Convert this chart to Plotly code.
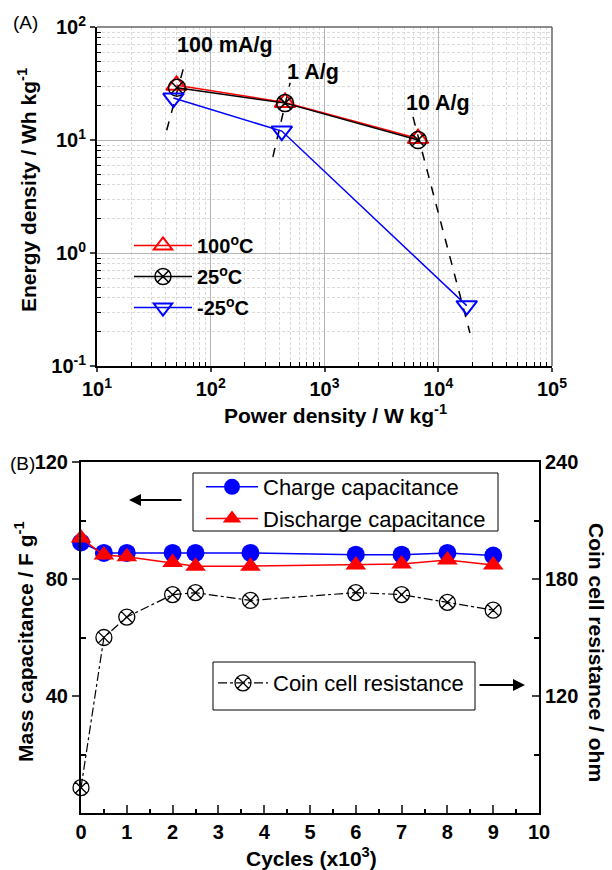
import plotly.graph_objects as go

# ---------------- Panel A data ----------------
power_100C = [50, 450, 6640]
energy_100C = [30.5, 21.5, 10.3]
power_25C = [50.5, 450, 6640]
energy_25C = [29, 21.2, 10.0]
power_m25C = [47, 421, 17800]
energy_m25C = [23.5, 12.0, 0.342]

# dashed rate guide lines (endpoints)
guide_100mA_x = [41, 59.5]
guide_100mA_y = [12.2, 49]
guide_1A_x = [352, 498]
guide_1A_y = [7.1, 32]
guide_10A_x = [6000, 19000]
guide_10A_y = [16, 0.196]
rate_labels = ["100 mA/g", "1 A/g", "10 A/g"]

x_tickvals_A = [10, 100, 1000, 10000, 100000]
x_ticktext_A = ["10<sup>1</sup>", "10<sup>2</sup>", "10<sup>3</sup>", "10<sup>4</sup>", "10<sup>5</sup>"]
y_tickvals_A = [0.1, 1, 10, 100]
y_ticktext_A = ["10<sup>-1</sup>", "10<sup>0</sup>", "10<sup>1</sup>", "10<sup>2</sup>"]

# ---------------- Panel B data ----------------
cycles = [0, 0.5, 1, 2, 2.5, 3.7, 6, 7, 8, 9]
charge_cap = [92.5, 88.9, 88.9, 88.9, 88.9, 88.9, 88.3, 88.3, 88.9, 88.0]
discharge_cap = [94.0, 88.2, 87.6, 85.6, 84.4, 84.4, 84.8, 85.1, 86.5, 84.8]
resistance = [73, 150, 160.5, 172, 173, 169, 173, 172, 168, 164]

FONT = "Arial, Liberation Sans, sans-serif"
W, H = 612, 870

def px(x):
    return x / W

def py(y):
    return 1 - y / H

fig = go.Figure()

# guide lines
for gx, gy in [(guide_100mA_x, guide_100mA_y), (guide_1A_x, guide_1A_y), (guide_10A_x, guide_10A_y)]:
    fig.add_trace(go.Scatter(x=gx, y=gy, mode="lines", showlegend=False, hoverinfo="skip",
                             line=dict(color="black", width=1.5, dash="dash"),
                             xaxis="x", yaxis="y"))

fig.add_trace(go.Scatter(x=power_100C, y=energy_100C, mode="lines+markers", name="100<sup>o</sup>C",
                         line=dict(color="#ff0000", width=1.5), legendgroup="g1",
                         marker=dict(symbol="triangle-up-open", size=18, color="#ff0000", line=dict(width=2)),
                         xaxis="x", yaxis="y", legend="legend"))
fig.add_trace(go.Scatter(x=power_25C, y=energy_25C, mode="lines+markers", name="25<sup>o</sup>C",
                         line=dict(color="black", width=1.5), legendgroup="g2",
                         marker=dict(symbol="circle-x-open", size=17, color="black", line=dict(width=1.5)),
                         xaxis="x", yaxis="y", legend="legend"))
fig.add_trace(go.Scatter(x=power_m25C, y=energy_m25C, mode="lines+markers", name="-25<sup>o</sup>C",
                         line=dict(color="#0000ff", width=1.5), legendgroup="g3",
                         marker=dict(symbol="triangle-down-open", size=18, color="#0000ff", line=dict(width=2)),
                         xaxis="x", yaxis="y", legend="legend"))

# Panel B traces
fig.add_trace(go.Scatter(x=cycles, y=charge_cap, mode="lines+markers", name="Charge capacitance",
                         line=dict(color="#0000ff", width=1.5),
                         marker=dict(symbol="circle", size=18, color="#0000ff"),
                         cliponaxis=False, xaxis="x2", yaxis="y2", legend="legend2"))
fig.add_trace(go.Scatter(x=cycles, y=discharge_cap, mode="lines+markers", name="Discharge capacitance",
                         line=dict(color="#ff0000", width=1.5),
                         marker=dict(symbol="triangle-up", size=18, color="#ff0000"),
                         cliponaxis=False, xaxis="x2", yaxis="y2", legend="legend2"))
fig.add_trace(go.Scatter(x=cycles, y=resistance, mode="lines+markers", name="Coin cell resistance",
                         line=dict(color="black", width=1.2, dash="dashdot"),
                         marker=dict(symbol="circle-x-open", size=16, color="black", line=dict(width=1.3)),
                         cliponaxis=False, xaxis="x2", yaxis="y3", legend="legend3"))

minor_log_x = [m * 10 ** k for k in range(1, 5) for m in range(2, 10)]
minor_log_y = [m * 10 ** k for k in range(-1, 2) for m in range(2, 10)]

tickfont = dict(family=FONT, size=20, color="black", weight="bold")

fig.update_layout(
    width=W, height=H, margin=dict(l=0, r=0, t=0, b=0, autoexpand=False),
    paper_bgcolor="white", plot_bgcolor="white",
    font=dict(family=FONT, color="black"),
    xaxis=dict(type="log", range=[1, 5], domain=[px(97), px(552)], anchor="y", automargin=False,
               tickmode="array", tickvals=x_tickvals_A, ticktext=x_ticktext_A, tickfont=tickfont,
               showline=True, linecolor="black", linewidth=2, ticks="outside", ticklen=4, tickwidth=1.5,
               showgrid=True, gridcolor="#b4b4b4", gridwidth=1, zeroline=False,
               minor=dict(tickmode="array", tickvals=minor_log_x, ticks="inside", ticklen=4, tickwidth=1,
                          tickcolor="black", showgrid=True, gridcolor="#dadada", griddash="3px,2px", gridwidth=1)),
    yaxis=dict(type="log", range=[-1, 2], domain=[py(366), py(27)], anchor="x", automargin=False,
               tickmode="array", tickvals=y_tickvals_A, ticktext=y_ticktext_A, tickfont=tickfont,
               showline=True, linecolor="black", linewidth=2, ticks="outside", ticklen=5, tickwidth=1.5,
               showgrid=True, gridcolor="#b4b4b4", gridwidth=1, zeroline=False,
               minor=dict(tickmode="array", tickvals=minor_log_y, ticks="inside", ticklen=4, tickwidth=1,
                          tickcolor="black", showgrid=True, gridcolor="#dadada", griddash="3px,2px", gridwidth=1)),
    xaxis2=dict(range=[0, 10], domain=[px(81), px(539)], anchor="y2", automargin=False,
                tickmode="linear", tick0=0, dtick=1, tickfont=tickfont,
                showline=True, mirror=True, linecolor="black", linewidth=2,
                ticks="inside", ticklen=8, tickwidth=1.5, showgrid=False, zeroline=False,
                minor=dict(dtick=0.5, ticks="inside", ticklen=4, tickwidth=1.5, tickcolor="black")),
    yaxis2=dict(range=[0, 120], domain=[py(813), py(462)], anchor="x2", automargin=False,
                tickmode="array", tickvals=[40, 80, 120], tickfont=tickfont,
                showline=True, linecolor="black", linewidth=2,
                ticks="outside", ticklen=7, tickwidth=1.5, showgrid=False, zeroline=False,
                minor=dict(tickmode="array", tickvals=[20, 60, 100], ticks="inside", ticklen=5,
                           tickwidth=1.5, tickcolor="black")),
    yaxis3=dict(range=[60, 240], overlaying="y2", side="right", anchor="x2", automargin=False,
                tickmode="array", tickvals=[120, 180, 240], tickfont=tickfont,
                showline=True, linecolor="black", linewidth=2,
                ticks="inside", ticklen=7, tickwidth=1.5, showgrid=False, zeroline=False,
                minor=dict(tickmode="array", tickvals=[90, 150, 210], ticks="inside", ticklen=5,
                           tickwidth=1.5, tickcolor="black")),
    legend=dict(x=px(129), y=py(226), xanchor="left", yanchor="top", bgcolor="rgba(0,0,0,0)",
                font=dict(family=FONT, size=20, color="black", weight="bold"), itemwidth=58,
                tracegroupgap=2),
    legend2=dict(x=px(201), y=py(466), xanchor="left", yanchor="top", bgcolor="rgba(0,0,0,0)",
                 font=dict(family=FONT, size=22, color="black"), itemwidth=52),
    legend3=dict(x=px(213), y=py(662), xanchor="left", yanchor="top", bgcolor="rgba(0,0,0,0)",
                 font=dict(family=FONT, size=22, color="black"), itemwidth=50),
    showlegend=True,
)

# gray top/right frame for panel A
fig.add_shape(type="line", xref="paper", yref="paper", x0=px(97), x1=px(552), y0=py(27), y1=py(27),
              line=dict(color="#666666", width=1.5))
fig.add_shape(type="line", xref="paper", yref="paper", x0=px(552), x1=px(552), y0=py(27), y1=py(366),
              line=dict(color="#666666", width=1.5))
# legend boxes for panel B
fig.add_shape(type="rect", xref="paper", yref="paper", x0=px(193), x1=px(498), y0=py(531), y1=py(473),
              line=dict(color="black", width=1))
fig.add_shape(type="rect", xref="paper", yref="paper", x0=px(213), x1=px(475), y0=py(710), y1=py(662),
              line=dict(color="black", width=1))

ann = []
bold_lbl = dict(family=FONT, size=21.5, color="black", weight="bold")
bold_title = dict(family=FONT, size=21, color="black", weight="bold")
# rate labels
for txt, (lx, ly) in zip(rate_labels, [(225, 45), (313, 72), (438, 103)]):
    ann.append(dict(text=txt, x=px(lx), y=py(ly), xref="paper", yref="paper", showarrow=False,
                    xanchor="center", yanchor="middle", font=bold_lbl))
# axis titles
ann.append(dict(text="Power density / W kg<sup>-1</sup>", x=px(335), y=py(414), xref="paper", yref="paper",
                showarrow=False, font=bold_title, xanchor="center", yanchor="middle"))
ann.append(dict(text="Energy density / Wh kg<sup>-1</sup>", x=px(27), y=py(190), xref="paper", yref="paper",
                showarrow=False, font=bold_title, textangle=-90, xanchor="center", yanchor="middle"))
ann.append(dict(text="Mass capacitance / F g<sup>-1</sup>", x=px(24), y=py(642), xref="paper", yref="paper",
                showarrow=False, font=bold_title, textangle=-90, xanchor="center", yanchor="middle"))
ann.append(dict(text="Coin cell resistance / ohm", x=px(597), y=py(652), xref="paper", yref="paper",
                showarrow=False, font=bold_title, textangle=90, xanchor="center", yanchor="middle"))
ann.append(dict(text="Cycles (x10<sup>3</sup>)", x=px(311), y=py(857), xref="paper", yref="paper",
                showarrow=False, font=bold_title, xanchor="center", yanchor="middle"))
# panel labels
ann.append(dict(text="(A)", x=px(25), y=py(22), xref="paper", yref="paper", showarrow=False,
                font=dict(family=FONT, size=19, color="black"), xanchor="center", yanchor="middle"))
ann.append(dict(text="(B)", x=px(22), y=py(463), xref="paper", yref="paper", showarrow=False,
                font=dict(family=FONT, size=19, color="black"), xanchor="center", yanchor="middle"))
# arrows
ann.append(dict(text="", x=px(129), y=py(500), xref="paper", yref="paper", ax=54, ay=0,
                showarrow=True, arrowhead=2, arrowsize=1.2, arrowwidth=2, arrowcolor="black"))
ann.append(dict(text="", x=px(525), y=py(685), xref="paper", yref="paper", ax=-47, ay=0,
                showarrow=True, arrowhead=2, arrowsize=1.2, arrowwidth=2, arrowcolor="black"))
fig.update_layout(annotations=ann)

fig.write_html("out.html")
